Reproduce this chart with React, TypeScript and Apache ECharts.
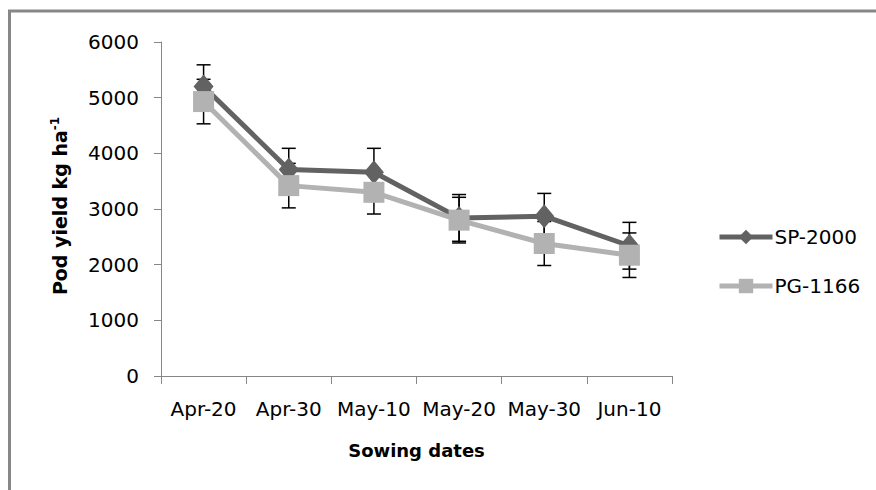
import React, { useEffect, useRef } from "react";
import * as echarts from "echarts";

const categories = ["Apr-20", "Apr-30", "May-10", "May-20", "May-30", "Jun-10"];
const spMean = [5200, 3710, 3660, 2840, 2870, 2340];
const spErr = [390, 380, 430, 420, 410, 420];
const pgMean = [4930, 3420, 3300, 2800, 2380, 2170];
const pgErr = [400, 400, 390, 410, 395, 400];
const seriesNames = ["SP-2000", "PG-1166"];
const yTicks = { min: 0, max: 6000, interval: 1000 };

const FONT = "DejaVu Sans";

function errData(mean: number[], err: number[]) {
  return mean.map((m, i) => [i, m - err[i], m + err[i]]);
}

function errorRender(params: any, api: any) {
  const i = api.value(0);
  const lo = api.coord([i, api.value(1)]);
  const hi = api.coord([i, api.value(2)]);
  const half = 7;
  const style = { stroke: "#000", lineWidth: 1.5 };
  return {
    type: "group",
    children: [
      { type: "line", shape: { x1: lo[0], y1: lo[1], x2: hi[0], y2: hi[1] }, style },
      { type: "line", shape: { x1: lo[0] - half, y1: lo[1], x2: lo[0] + half, y2: lo[1] }, style },
      { type: "line", shape: { x1: hi[0] - half, y1: hi[1], x2: hi[0] + half, y2: hi[1] }, style },
    ],
  };
}

export default function App() {
  const ref = useRef<HTMLDivElement>(null);
  useEffect(() => {
    const chart = echarts.init(ref.current!, undefined, { renderer: "svg" });
    chart.setOption({
      animation: false,
      backgroundColor: "#fff",
      textStyle: { fontFamily: FONT },
      grid: { left: 161, right: 204, top: 42, bottom: 114, containLabel: false },
      graphic: [
        {
          type: "rect",
          shape: { x: 9.5, y: 11, width: 1200, height: 1000 },
          style: { fill: "none", stroke: "#878787", lineWidth: 3 },
          silent: true,
        },
        {
          type: "text",
          x: 60,
          y: 206,
          rotation: Math.PI / 2,
          style: {
            text: "{a|Pod yield kg ha}{s|-1}",
            align: "center",
            verticalAlign: "middle",
            fill: "#000",
            rich: {
              a: { fontFamily: FONT, fontWeight: "bold", fontSize: 19, fill: "#000" },
              s: { fontFamily: FONT, fontWeight: "bold", fontSize: 12, fill: "#000", padding: [0, 0, 10, 0] },
            },
          },
        },
      ],
      legend: {
        orient: "vertical",
        left: 712,
        top: 222,
        itemWidth: 53,
        itemHeight: 18,
        itemGap: 29,
        data: seriesNames,
        lineStyle: { width: 5 },
        textStyle: { fontFamily: FONT, fontSize: 20, color: "#000", padding: [0, 0, 0, -3] },
      },
      xAxis: {
        type: "category",
        data: categories,
        boundaryGap: true,
        name: "Sowing dates",
        nameLocation: "middle",
        nameGap: 65,
        nameTextStyle: { fontFamily: FONT, fontWeight: "bold", fontSize: 18, color: "#000", verticalAlign: "top" },
        axisLine: { lineStyle: { color: "#868686", width: 1 } },
        axisTick: { show: true, interval: 0, length: 8, alignWithLabel: false, lineStyle: { color: "#868686" } },
        axisLabel: { interval: 0, margin: 23, fontFamily: FONT, fontSize: 20, color: "#000" },
        splitLine: { show: false },
      },
      yAxis: {
        type: "value",
        min: yTicks.min,
        max: yTicks.max,
        interval: yTicks.interval,
        axisLine: { show: true, lineStyle: { color: "#868686", width: 1 } },
        axisTick: { show: true, length: 7, lineStyle: { color: "#868686" } },
        axisLabel: { margin: 22, fontFamily: FONT, fontSize: 20, color: "#000", formatter: (v: number) => String(v) },
        splitLine: { show: false },
      },
      series: [
        {
          type: "custom",
          name: "errSP",
          renderItem: errorRender,
          data: errData(spMean, spErr),
          z: 1,
          silent: true,
        },
        {
          type: "custom",
          name: "errPG",
          renderItem: errorRender,
          data: errData(pgMean, pgErr),
          z: 1,
          silent: true,
        },
        {
          type: "line",
          name: seriesNames[0],
          data: spMean,
          symbol: "diamond",
          symbolSize: [20, 24],
          lineStyle: { color: "#626262", width: 5 },
          itemStyle: { color: "#626262" },
          z: 3,
        },
        {
          type: "line",
          name: seriesNames[1],
          data: pgMean,
          symbol: "rect",
          symbolSize: 21,
          lineStyle: { color: "#b2b2b2", width: 5 },
          itemStyle: { color: "#b2b2b2" },
          z: 4,
        },
      ],
    });
    return () => chart.dispose();
  }, []);
  return <div ref={ref} style={{ position: "absolute", left: 0, top: 0, width: 876, height: 490 }} />;
}
